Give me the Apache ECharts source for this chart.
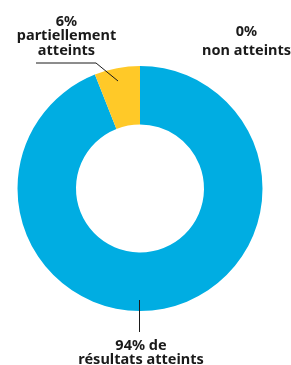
<!DOCTYPE html>
<html>
<head>
<meta charset="utf-8">
<script src="https://cdn.jsdelivr.net/npm/echarts@6/dist/echarts.min.js"></script>
<style>
  html, body { margin: 0; padding: 0; background: #fff; }
  #main { width: 291px; height: 365px; }
</style>
</head>
<body>
<div id="main"></div>
<script>
// données
var categories = ['résultats atteints', 'partiellement\natteints', 'non atteints'];
var values = [94, 6, 0];
var colors = ['#00ade2', '#ffc928', '#e2001a'];

// mise en page des étiquettes (haut du bloc, interligne) et traits de rappel
var labelPos = [
    { x: 141, y: 338.5, lh: 14.5, line: [[139.5, 300], [139.5, 332]] },
    { x: 66.5, y: 14.5, lh: 14.5, line: [[118, 81], [96, 63], [36, 63]] },
    { x: 246.5, y: 22, lh: 19, line: null }
];

function labelText(i) {
    if (i === 0) return values[i] + '% de\n' + categories[i];
    return values[i] + '%\n' + categories[i];
}

var chart = echarts.init(document.getElementById('main'));

var seriesData = values.map(function (v, i) {
    return {
        name: categories[i],
        value: v,
        itemStyle: { color: colors[i] },
        label: { lineHeight: labelPos[i].lh }
    };
});

var leaderLines = labelPos.filter(function (p) { return p.line; }).map(function (p) {
    return {
        type: 'polyline',
        silent: true,
        z: 100,
        shape: { points: p.line },
        style: { stroke: '#1a1a1a', lineWidth: 1, fill: null }
    };
});

chart.setOption({
    animation: false,
    series: [{
        type: 'pie',
        center: [140, 188.5],
        radius: [64, 122.5],
        startAngle: 90,
        clockwise: true,
        avoidLabelOverlap: false,
        itemStyle: { borderWidth: 0 },
        label: {
            show: true,
            position: 'outside',
            formatter: function (p) { return labelText(p.dataIndex); },
            fontFamily: 'Noto Sans',
            fontWeight: 'bold',
            fontSize: 14.5,
            color: '#1a1a1a',
            align: 'center'
        },
        labelLine: { show: false },
        labelLayout: function (params) {
            var p = labelPos[params.dataIndex];
            return {
                x: p.x,
                y: p.y,
                align: 'center',
                verticalAlign: 'top'
            };
        },
        emphasis: { disabled: true },
        data: seriesData
    }],
    graphic: leaderLines
});
</script>
</body>
</html>
